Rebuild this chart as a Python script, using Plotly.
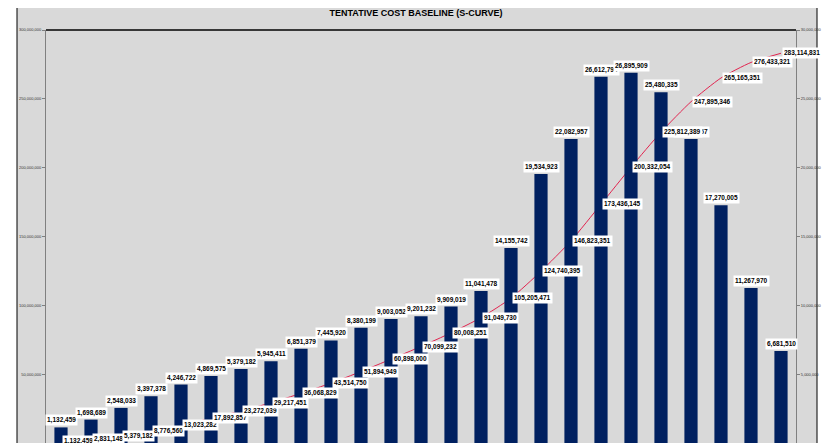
import plotly.graph_objects as go

# Tentative cost baseline - monthly cost (bars, right axis) and cumulative (line, left axis)
periods = list(range(1, 26))

monthly_cost = [
    1132459, 1698689, 2548033, 3397378, 4246722, 4869575, 5379182, 5945411,
    6851379, 7445920, 8380199, 9003052, 9201232, 9909019, 11041478, 14155742,
    19534923, 22082957, 26612794, 26895909, 25480335, 22082957, 17270005,
    11267970, 6681510,
]

cumulative_cost = [
    1132459, 2831148, 5379182, 8776560, 13023282, 17892857, 23272039, 29217451,
    36068829, 43514750, 51894949, 60898000, 70099232, 80008251, 91049730,
    105205471, 124740395, 146823351, 173436145, 200332054, 225812389,
    247895346, 265165351, 276433321, 283114831,
]

left_ticks = [0, 50000000, 100000000, 150000000, 200000000, 250000000, 300000000]
right_ticks = [0, 5000000, 10000000, 15000000, 20000000, 25000000, 30000000]

BG = "#D9D9D9"
NAVY = "#002060"
RED = "#E2244F"
FONT = "Liberation Sans, Arial"

# the page puts the figure 8px in from the top-left corner
W, H = 825, 435
PLOT_W = 750

fig = go.Figure()

fig.add_trace(go.Bar(
    x=periods, y=monthly_cost, yaxis="y2",
    marker=dict(color=NAVY, line_width=0),
    name="Monthly",
))
fig.add_trace(go.Scatter(
    x=periods, y=cumulative_cost, yaxis="y",
    mode="lines", line=dict(color=RED, width=1, shape="spline", smoothing=0.6),
    name="Cumulative",
))

annotations = []
# bar labels (above each bar)
for p, v in zip(periods, monthly_cost):
    annotations.append(dict(
        x=p, y=v, xref="x", yref="y2", text="<b>{:,}</b>".format(v),
        showarrow=False, yanchor="bottom", xanchor="center", yshift=1,
        bgcolor="white", borderpad=1,
        font=dict(family=FONT, size=6.5, color="black"),
    ))
# cumulative labels (right of each point)
for p, v in zip(periods, cumulative_cost):
    annotations.append(dict(
        x=p, y=v, xref="x", yref="y", text="<b>{:,}</b>".format(v),
        showarrow=False, yanchor="middle", xanchor="left", xshift=1,
        bgcolor="white", borderpad=1,
        font=dict(family=FONT, size=6.5, color="black"),
    ))

fig.update_layout(
    width=W, height=H,
    margin=dict(l=38, r=37, t=22, b=0),
    paper_bgcolor="white",
    plot_bgcolor=BG,
    showlegend=False,
    bargap=0.56,
    title=dict(
        text="<b>TENTATIVE COST BASELINE (S-CURVE)</b>",
        x=408 / W, xanchor="center", y=1 - 4.5 / H, yanchor="middle",
        font=dict(family=FONT, size=9, color="black"),
    ),
    xaxis=dict(
        range=[0.5, 25.5], showticklabels=False, showgrid=False,
        zeroline=False, showline=False, ticks="",
    ),
    yaxis=dict(
        range=[0, 300000000], tickvals=left_ticks, tickformat=",d",
        showgrid=False, zeroline=False, showline=True, linecolor="#808080",
        linewidth=1, ticks="outside", ticklen=3, tickcolor="#808080",
        tickfont=dict(family=FONT, size=4, color="#333333"),
    ),
    yaxis2=dict(
        range=[0, 30000000], tickvals=right_ticks, tickformat=",d",
        overlaying="y", side="right",
        showgrid=False, zeroline=False, showline=True, linecolor="#808080",
        linewidth=1, ticks="outside", ticklen=3, tickcolor="#808080",
        tickfont=dict(family=FONT, size=4, color="#333333"),
    ),
    annotations=annotations,
    shapes=[
        # chart area frame
        dict(type="rect", xref="paper", yref="paper",
             x0=(9 - 38) / PLOT_W, x1=(809 - 38) / PLOT_W, y0=-0.03, y1=1.1,
             fillcolor=BG, line=dict(color="black", width=1), layer="below"),
        # top border of the plot area
        dict(type="line", xref="paper", yref="paper",
             x0=0, x1=1, y0=1, y1=1, line=dict(color="black", width=1.5)),
    ],
)

fig.write_html("out.html")
